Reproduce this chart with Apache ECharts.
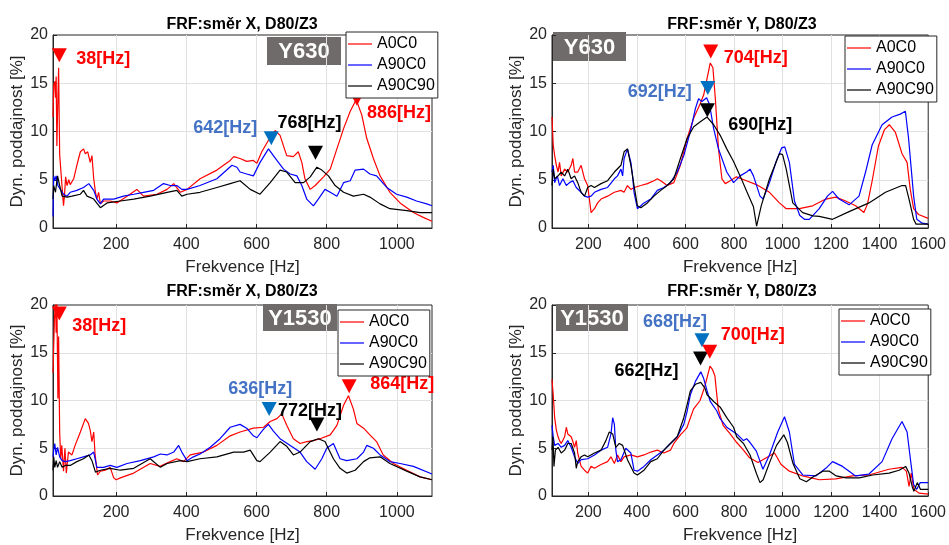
<!DOCTYPE html>
<html>
<head>
<meta charset="utf-8">
<script src="https://cdn.jsdelivr.net/npm/echarts@6/dist/echarts.min.js"></script>
<style>
  html, body { margin: 0; padding: 0; background: #ffffff; }
  #chart { width: 949px; height: 545px; }
</style>
</head>
<body>
<div id="chart"></div>
<script>
// Measurement variants shown in every panel
const variantNames = ['A0C0', 'A90C0', 'A90C90'];

// Direction X, Y630 — [frequency Hz, dynamic compliance %]
const dirX_Y630_A0C0 = [[20,11.5],[22,14.8],[25,15.2],[27,13.5],[29,15.7],[31,8.5],[33,12.0],[36,16.6],[39,7.6],[42,7.8],[46,4.2],[50,2.3],[53,3.5],[56,5.3],[60,4.4],[65,5.0],[69,4.5],[79,5.1],[88,6.5],[98,7.9],[107,8.2],[112,7.7],[119,7.9],[126,6.8],[131,7.5],[136,5.1],[141,3.7],[145,3.0],[150,3.7],[155,2.5],[164,2.8],[183,2.8],[202,2.6],[231,3.3],[259,4.0],[278,3.3],[316,3.5],[345,4.0],[364,4.6],[383,3.7],[402,4.0],[439,5.1],[487,6.0],[525,7.0],[535,7.4],[553,7.2],[572,6.9],[591,7.0],[601,6.7],[615,7.9],[634,9.1],[653,10.1],[667,9.6],[686,7.5],[705,7.4],[719,7.9],[729,6.8],[738,5.1],[753,4.0],[767,4.4],[791,5.3],[810,6.1],[829,8.2],[848,10.3],[867,12.1],[884,13.3],[900,11.7],[914,9.3],[933,7.2],[952,5.4],[980,3.7],[1009,2.6],[1047,1.6],[1075,1.1],[1100,0.7]];
const dirX_Y630_A90C0 = [[20,1.2],[22,5.4],[25,4.9],[29,5.4],[34,4.4],[41,4.0],[50,3.5],[60,3.3],[69,3.7],[88,3.9],[107,4.2],[122,4.6],[126,4.6],[136,3.9],[145,3.0],[155,2.5],[164,3.0],[193,3.0],[221,3.3],[250,3.5],[278,3.7],[307,3.9],[335,4.6],[354,4.4],[373,4.4],[387,4.0],[402,4.0],[439,4.4],[487,5.1],[530,6.5],[544,6.3],[553,5.8],[572,5.6],[591,5.4],[610,6.8],[634,8.2],[658,7.0],[677,6.1],[696,5.6],[715,5.4],[729,4.4],[743,3.0],[762,2.3],[776,3.0],[795,4.0],[810,3.7],[829,3.3],[848,4.7],[867,4.9],[881,6.0],[905,6.1],[923,5.6],[942,5.4],[971,4.2],[999,3.5],[1028,3.2],[1056,2.8],[1085,2.5],[1100,2.3]];
const dirX_Y630_A90C90 = [[20,3.0],[22,4.4],[27,3.7],[33,5.4],[39,4.4],[46,3.3],[60,3.2],[74,3.3],[98,3.5],[107,3.9],[117,3.3],[136,3.0],[155,2.1],[174,2.6],[212,2.8],[250,3.0],[297,3.3],[345,3.7],[373,3.9],[387,3.3],[402,3.5],[439,3.7],[487,4.2],[525,4.6],[553,4.9],[582,4.0],[610,3.5],[639,4.7],[667,6.0],[686,5.8],[710,4.7],[734,4.7],[753,5.3],[772,6.3],[786,6.0],[805,5.4],[824,4.4],[848,3.7],[876,3.3],[905,3.5],[923,3.2],[952,2.5],[980,2.0],[1028,1.8],[1066,1.6],[1100,1.6]];

// Direction Y, Y630
const dirY_Y630_A0C0 = [[50,11.5],[55,8.6],[61,7.5],[68,6.5],[75,5.8],[81,6.8],[88,5.4],[102,6.1],[115,5.8],[129,6.5],[136,7.2],[143,5.8],[156,5.8],[170,6.5],[184,5.1],[197,4.4],[211,1.6],[225,2.0],[238,2.6],[252,3.0],[279,3.3],[307,3.7],[334,3.9],[347,3.7],[361,4.4],[375,4.0],[388,4.2],[416,4.4],[443,4.6],[470,4.9],[484,5.1],[498,4.9],[525,4.4],[552,4.7],[579,6.5],[607,9.3],[634,11.4],[661,12.9],[675,13.8],[689,15.5],[702,17.1],[713,16.6],[723,13.4],[736,8.2],[750,5.1],[764,4.6],[784,4.9],[810,5.3],[851,4.9],[892,4.5],[946,3.7],[987,2.6],[1015,2.0],[1069,2.0],[1124,2.3],[1178,3.0],[1219,3.2],[1260,2.8],[1301,2.3],[1335,1.6],[1350,2.5],[1370,5.0],[1395,8.5],[1420,10.2],[1440,10.7],[1465,9.9],[1492,7.7],[1513,6.8],[1526,4.0],[1540,2.0],[1560,1.4],[1600,1.0]];
const dirY_Y630_A90C0 = [[50,5.8],[55,6.5],[61,4.7],[72,5.4],[81,4.4],[95,5.1],[109,4.4],[122,4.7],[136,4.9],[150,4.2],[170,3.7],[184,3.3],[197,3.2],[211,3.3],[225,3.7],[252,4.0],[279,4.2],[307,5.1],[320,5.4],[334,6.1],[341,5.4],[347,7.2],[361,8.2],[375,6.8],[382,5.4],[388,3.7],[402,2.0],[416,2.3],[429,2.6],[457,3.0],[484,3.9],[511,4.2],[538,4.7],[566,5.8],[593,7.5],[620,10.0],[641,12.4],[654,13.4],[668,13.1],[687,13.5],[699,12.8],[716,10.3],[736,8.2],[770,5.8],[798,4.7],[825,5.4],[852,5.8],[866,6.1],[880,5.4],[907,3.3],[920,3.0],[946,4.7],[975,7.0],[996,8.3],[1009,8.4],[1028,6.8],[1049,2.8],[1071,1.3],[1090,0.9],[1110,0.9],[1151,2.0],[1185,3.3],[1206,3.8],[1233,3.0],[1274,2.4],[1315,3.3],[1342,5.8],[1369,8.6],[1410,10.7],[1451,11.5],[1485,11.8],[1506,12.1],[1519,9.3],[1540,3.3],[1553,0.9],[1575,0.5],[1600,0.4]];
const dirY_Y630_A90C90 = [[50,4.4],[55,6.1],[61,5.1],[75,5.4],[88,5.8],[102,5.4],[115,6.1],[129,5.1],[143,5.4],[156,4.7],[170,3.7],[184,3.3],[197,4.2],[211,4.4],[225,4.2],[252,4.6],[279,4.9],[307,5.8],[334,6.5],[347,7.9],[361,8.2],[375,6.5],[388,4.4],[402,2.3],[416,2.1],[443,2.6],[470,3.3],[498,3.9],[525,4.4],[552,5.1],[579,7.2],[607,9.3],[634,10.5],[661,11.0],[689,11.5],[716,10.7],[743,9.6],[770,8.2],[798,6.9],[825,5.4],[852,3.8],[880,2.2],[893,0.2],[912,2.3],[946,5.1],[987,7.7],[1000,7.6],[1015,6.1],[1042,2.6],[1083,1.6],[1125,1.25],[1151,1.2],[1206,0.9],[1274,1.7],[1356,2.6],[1424,3.7],[1492,4.4],[1507,4.4],[1521,3.0],[1540,0.9],[1550,0.4],[1600,0.4]];

// Direction X, Y1530
const dirX_Y1530_A0C0 = [[20,12.9],[24,18.4],[27,20.5],[29,17.1],[31,20.5],[34,10.2],[36,16.7],[39,6.7],[42,3.9],[45,5.3],[50,2.6],[54,5.0],[58,2.4],[64,4.6],[74,4.3],[83,5.3],[98,6.7],[112,8.1],[121,7.6],[126,6.9],[131,5.7],[136,6.7],[140,4.3],[147,2.2],[155,2.6],[169,2.7],[183,3.0],[193,1.9],[200,1.7],[212,1.9],[250,2.4],[297,3.4],[325,3.1],[354,3.6],[373,3.9],[392,3.6],[411,4.3],[449,4.6],[487,5.3],[525,6.3],[553,6.7],[591,7.1],[620,7.2],[639,7.8],[658,8.1],[672,8.6],[686,7.4],[705,6.0],[724,5.5],[743,5.7],[762,5.8],[781,6.0],[810,6.4],[829,7.4],[848,9.5],[862,10.5],[876,9.1],[886,7.6],[905,7.1],[923,6.4],[942,5.7],[961,4.3],[990,3.4],[1028,2.7],[1066,2.0],[1100,1.7]];
const dirX_Y1530_A90C0 = [[20,4.1],[22,4.8],[25,5.5],[29,4.3],[33,5.1],[39,4.1],[46,3.7],[55,3.6],[69,3.7],[88,3.9],[107,4.1],[126,4.3],[136,4.6],[145,3.0],[164,3.0],[183,3.2],[202,3.0],[231,3.4],[269,3.7],[307,4.1],[326,4.4],[345,4.3],[364,4.6],[378,5.3],[387,4.6],[402,3.7],[420,4.1],[439,4.4],[468,5.1],[496,6.0],[525,7.2],[553,7.5],[572,7.1],[591,6.3],[601,6.1],[620,7.0],[634,7.5],[648,6.8],[667,6.0],[696,5.3],[724,4.6],[743,3.6],[767,2.8],[786,3.9],[800,5.0],[819,5.5],[838,3.9],[857,3.7],[886,3.9],[905,4.6],[914,5.3],[933,5.0],[952,4.3],[980,3.6],[1009,3.4],[1047,3.1],[1100,2.3]];
const dirX_Y1530_A90C90 = [[20,2.7],[22,4.1],[25,3.0],[29,3.7],[33,3.0],[39,3.6],[46,3.0],[55,3.2],[69,3.2],[88,3.6],[107,3.9],[122,4.3],[131,3.7],[141,2.5],[155,2.7],[183,2.9],[212,2.7],[250,2.9],[297,3.9],[326,3.0],[345,3.4],[383,3.7],[402,3.6],[439,3.9],[487,4.1],[535,4.6],[563,4.6],[582,4.8],[601,3.7],[610,3.6],[639,4.6],[667,5.7],[686,5.2],[705,4.3],[724,4.6],[753,5.7],[776,6.0],[795,5.7],[819,3.9],[838,2.9],[857,2.4],[881,2.7],[905,3.6],[923,4.0],[952,4.1],[980,3.4],[1028,2.6],[1066,2.0],[1100,1.7]];

// Direction Y, Y1530
const dirY_Y1530_A0C0 = [[50,12.2],[55,10.6],[61,8.2],[68,6.9],[75,6.2],[81,5.8],[88,5.5],[102,6.2],[109,7.2],[115,6.5],[129,6.2],[136,5.7],[143,5.1],[150,5.8],[156,4.5],[170,3.1],[184,2.7],[197,2.4],[211,3.1],[225,2.9],[252,3.3],[279,3.6],[293,4.1],[307,3.4],[320,4.3],[334,3.6],[347,4.1],[375,4.3],[402,4.1],[429,4.3],[457,4.6],[484,4.8],[511,4.5],[538,4.8],[552,5.5],[579,6.4],[605,7.1],[633,9.1],[660,10.0],[680,11.5],[701,13.6],[712,13.2],[721,12.6],[735,9.1],[755,7.4],[784,6.5],[811,5.6],[839,4.8],[864,4.0],[899,3.5],[933,4.0],[967,4.5],[994,3.3],[1028,2.6],[1083,2.1],[1151,1.7],[1219,1.8],[1288,2.1],[1356,2.2],[1438,2.8],[1492,3.0],[1510,2.6],[1521,1.0],[1530,2.4],[1541,0.7],[1562,0.3],[1600,0.2]];
const dirY_Y1530_A90C0 = [[50,7.4],[55,6.2],[61,5.3],[75,5.5],[88,5.1],[102,5.3],[115,5.8],[129,5.1],[143,4.1],[156,3.4],[170,3.8],[197,3.9],[225,4.3],[252,4.8],[279,5.1],[293,6.5],[300,8.2],[307,7.5],[313,4.8],[320,3.6],[334,3.8],[354,5.0],[375,4.5],[388,2.7],[402,2.6],[429,3.1],[457,3.8],[484,4.3],[511,4.8],[538,5.5],[566,6.2],[593,7.5],[607,8.9],[620,10.6],[641,12.0],[663,13.0],[675,12.3],[689,11.0],[702,9.9],[729,8.9],[743,8.1],[770,7.2],[811,6.5],[839,5.8],[852,6.0],[866,5.6],[892,4.7],[919,2.8],[946,4.3],[980,6.7],[1008,8.3],[1028,6.7],[1049,3.3],[1083,2.2],[1137,2.1],[1178,2.9],[1206,3.6],[1247,3.1],[1301,2.1],[1356,2.3],[1410,3.6],[1451,6.0],[1492,7.8],[1513,6.7],[1526,4.0],[1540,1.2],[1553,0.7],[1567,1.4],[1600,1.4]];
const dirY_Y1530_A90C90 = [[50,4.8],[54,6.2],[58,3.1],[64,4.8],[75,5.1],[88,4.5],[102,4.8],[115,5.5],[129,5.5],[143,4.5],[150,2.9],[156,3.6],[170,4.1],[184,4.3],[197,4.1],[225,4.5],[252,4.8],[272,5.8],[286,6.7],[300,6.5],[313,5.1],[327,5.5],[341,5.3],[361,3.8],[388,2.4],[402,2.2],[429,2.7],[457,3.6],[484,3.9],[511,4.8],[538,5.5],[566,6.2],[593,8.2],[607,9.6],[620,11.0],[641,11.7],[663,11.9],[680,11.3],[689,10.6],[716,9.9],[743,9.3],[770,8.2],[798,7.2],[811,6.2],[839,5.5],[866,4.3],[893,2.3],[907,1.4],[920,1.7],[948,3.6],[975,5.3],[1005,6.4],[1020,5.6],[1043,3.4],[1071,1.8],[1098,1.5],[1125,2.0],[1166,2.6],[1193,2.6],[1221,2.1],[1262,1.9],[1316,1.9],[1371,2.2],[1439,2.4],[1480,2.7],[1507,3.1],[1521,2.4],[1534,1.0],[1541,0.5],[1555,1.4],[1568,0.7],[1600,0.7]];

// Marked resonance peaks: [frequency Hz, marker height %], plus which variant each belongs to
const peaks_dirX_Y630 = [[38,17.9],[642,9.3],[768,7.8],[886,13.4]];
const peakVariant_dirX_Y630 = [0, 1, 2, 0];
const peaks_dirY_Y630 = [[704,18.3],[692,14.5],[690,12.2]];
const peakVariant_dirY_Y630 = [0, 1, 2];
const peaks_dirX_Y1530 = [[38,19.1],[636,9.1],[772,7.5],[864,11.5]];
const peakVariant_dirX_Y1530 = [0, 1, 2, 0];
const peaks_dirY_Y1530 = [[668,16.3],[662,14.4],[700,15.1]];
const peakVariant_dirY_Y1530 = [1, 2, 0];

// Panel texts
const panelTitles = ['FRF:směr X, D80/Z3', 'FRF:směr Y, D80/Z3', 'FRF:směr X, D80/Z3', 'FRF:směr Y, D80/Z3'];
const panelTags = ['Y630', 'Y630', 'Y1530', 'Y1530'];
const xRanges = [[20, 1100], [50, 1600], [20, 1100], [50, 1600]];
const yRange = [0, 20];
const xAxisName = 'Frekvence [Hz]';
const yAxisName = 'Dyn. poddajnost [%]';

// ---- styling / layout ----
const lineColors = ['#ff0000', '#0000ff', '#000000'];
const markerColors = ['#ff0000', '#0070c0', '#000000'];
const labelColors = ['#ff0000', '#4472c4', '#000000'];
const FONT = '"Liberation Sans", Arial, Helvetica, sans-serif';
const AXIS_COLOR = '#262626';

const panelLayout = [
  { left: 53, top: 35, width: 379, height: 193, titleX: 242, titleY: 25,
    legend: { left: 346, top: 32 }, tag: { x: 267, y: 37, w: 74, h: 28 } },
  { left: 552, top: 35, width: 379, height: 193, titleX: 742, titleY: 25,
    legend: { left: 845, top: 36 }, tag: { x: 553, y: 32, w: 73, h: 29 } },
  { left: 53, top: 305, width: 379, height: 193, titleX: 242, titleY: 292,
    legend: { left: 338, top: 310 }, tag: { x: 263, y: 304, w: 74, h: 27 } },
  { left: 552, top: 305, width: 379, height: 193, titleX: 742, titleY: 292,
    legend: { left: 839, top: 309 }, tag: { x: 556, y: 304, w: 72, h: 27 } }
];

// label placement for each peak marker: [dx, dy, align]
const peakLabelPlacement = [
  [[17, 4, 'left'], [-14, -10, 'right'], [-6, -30, 'center'], [10, 14, 'left']],
  [[13, 7, 'left'], [-16, 4, 'right'], [21, 15, 'left']],
  [[13, 12, 'left'], [-9, -20, 'center'], [-7, -13, 'center'], [21, -2, 'left']],
  [[-27, -18, 'center'], [-22, 13, 'right'], [11, -17, 'left']]
];

const panelSeries = [
  [dirX_Y630_A0C0, dirX_Y630_A90C0, dirX_Y630_A90C90],
  [dirY_Y630_A0C0, dirY_Y630_A90C0, dirY_Y630_A90C90],
  [dirX_Y1530_A0C0, dirX_Y1530_A90C0, dirX_Y1530_A90C90],
  [dirY_Y1530_A0C0, dirY_Y1530_A90C0, dirY_Y1530_A90C90]
];
const panelPeaks = [peaks_dirX_Y630, peaks_dirY_Y630, peaks_dirX_Y1530, peaks_dirY_Y1530];
const panelPeakVariants = [peakVariant_dirX_Y630, peakVariant_dirY_Y630, peakVariant_dirX_Y1530, peakVariant_dirY_Y1530];

const downTriangle = 'path://M0,0 L10,0 L5,9 Z';

const grid = [], xAxis = [], yAxis = [], series = [], legend = [], graphic = [];

panelLayout.forEach((p, i) => {
  grid.push({ left: p.left, top: p.top, width: p.width, height: p.height,
    show: true, borderColor: AXIS_COLOR, borderWidth: 1, backgroundColor: '#ffffff', containLabel: false });

  const [xmin, xmax] = xRanges[i];
  xAxis.push({
    gridIndex: i, type: 'value', min: xmin, max: xmax,
    splitNumber: (xmax - xmin) > 1200 ? 8 : 5,
    axisLine: { show: true, onZero: false, lineStyle: { color: AXIS_COLOR, width: 1 } },
    axisTick: { show: true, inside: true, length: 4, lineStyle: { color: AXIS_COLOR } },
    axisLabel: { color: AXIS_COLOR, fontSize: 16, fontFamily: FONT, margin: 9,
      showMinLabel: false, showMaxLabel: xmax % 200 === 0,
      formatter: v => String(v) },
    splitLine: { show: true, showMinLine: false, showMaxLine: false, lineStyle: { color: '#e1e1e1', width: 1 } },
    name: xAxisName, nameLocation: 'middle', nameGap: 31,
    nameTextStyle: { color: AXIS_COLOR, fontSize: 17, fontFamily: FONT }
  });
  yAxis.push({
    gridIndex: i, type: 'value', min: yRange[0], max: yRange[1], interval: 5,
    axisLine: { show: true, lineStyle: { color: AXIS_COLOR, width: 1 } },
    axisTick: { show: true, inside: true, length: 4, lineStyle: { color: AXIS_COLOR } },
    axisLabel: { color: AXIS_COLOR, fontSize: 16, fontFamily: FONT, margin: 5, formatter: v => String(v) },
    splitLine: { show: true, showMinLine: false, showMaxLine: false, lineStyle: { color: '#e1e1e1', width: 1 } },
    name: yAxisName, nameLocation: 'middle', nameGap: 24,
    nameTextStyle: { color: AXIS_COLOR, fontSize: 17, fontFamily: FONT }
  });

  panelSeries[i].forEach((data, k) => {
    series.push({
      type: 'line', name: variantNames[k], xAxisIndex: i, yAxisIndex: i,
      data: data, symbol: 'none', clip: true, z: 2,
      lineStyle: { color: lineColors[k], width: 1.2 }, itemStyle: { color: lineColors[k] }
    });
  });

  series.push({
    type: 'scatter', xAxisIndex: i, yAxisIndex: i, clip: false, z: 5,
    symbol: downTriangle, symbolSize: [15, 14],
    emphasis: { disabled: true },
    data: panelPeaks[i].map((pk, j) => {
      const v = panelPeakVariants[i][j];
      const [dx, dy, align] = peakLabelPlacement[i][j];
      return {
        value: pk,
        itemStyle: { color: markerColors[v], opacity: 1 },
        label: {
          show: true, formatter: pk[0] + '[Hz]', position: 'inside',
          align: align, verticalAlign: 'middle', offset: [dx, dy],
          color: labelColors[v], fontSize: 18, fontWeight: 'bold', fontFamily: FONT,
          opacity: 1, textBorderWidth: 0
        }
      };
    })
  });

  legend.push({
    data: variantNames, orient: 'vertical', left: p.legend.left, top: p.legend.top,
    icon: 'rect', itemWidth: 24, itemHeight: 1.2, itemGap: 5,
    backgroundColor: '#ffffff', borderColor: AXIS_COLOR, borderWidth: 1, borderRadius: 0,
    padding: [4, 3, 4, 2],
    textStyle: { color: '#000000', fontSize: 16, fontFamily: FONT, lineHeight: 15 },
    selectedMode: false, z: 10
  });

  graphic.push({
    type: 'text', x: p.titleX, y: p.titleY, z: 10,
    style: { text: panelTitles[i], fill: '#000000', font: 'bold 16px ' + FONT,
      textAlign: 'center', textVerticalAlign: 'middle' }
  });
  graphic.push({
    type: 'group', z: 20,
    children: [
      { type: 'rect', shape: { x: p.tag.x, y: p.tag.y, width: p.tag.w, height: p.tag.h },
        style: { fill: '#6f6b6a' } },
      { type: 'text', x: p.tag.x + p.tag.w / 2, y: p.tag.y + p.tag.h / 2 + 1,
        style: { text: panelTags[i], fill: '#ffffff', font: 'bold 22px ' + FONT,
          textAlign: 'center', textVerticalAlign: 'middle' } }
    ]
  });
});

const chart = echarts.init(document.getElementById('chart'), null, { renderer: 'canvas' });
chart.setOption({
  backgroundColor: '#ffffff',
  animation: false,
  grid, xAxis, yAxis, series, legend, graphic
});
</script>
</body>
</html>
